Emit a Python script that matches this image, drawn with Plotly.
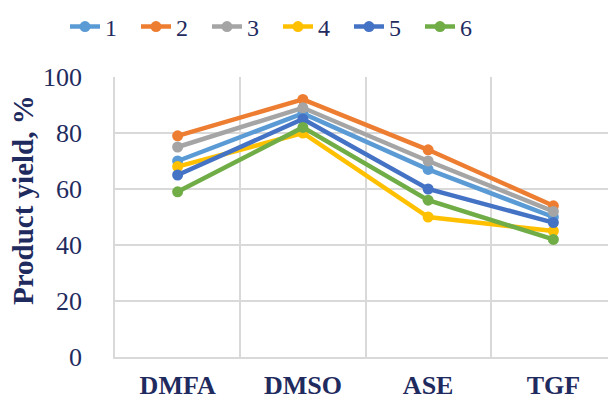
import plotly.graph_objects as go

categories = ["DMFA", "DMSO", "ASE", "TGF"]
series_names = ["1", "2", "3", "4", "5", "6"]
s1 = [70, 87, 67, 50]
s2 = [79, 92, 74, 54]
s3 = [75, 89, 70, 52]
s4 = [68, 80, 50, 45]
s5 = [65, 85, 60, 48]
s6 = [59, 82, 56, 42]
colors = ["#5B9BD5", "#ED7D31", "#A5A5A5", "#FFC000", "#4472C4", "#70AD47"]
y_ticks = [0, 20, 40, 60, 80, 100]
y_title = "Product yield, %"

navy = "#1F2B5E"
font_family = "Times New Roman"

# page body has an 8px margin; figure is sized to fill the rest of the window
W, H = 608, 393

fig = go.Figure()
for name, vals, col in zip(series_names, [s1, s2, s3, s4, s5, s6], colors):
    fig.add_trace(go.Scatter(
        x=categories, y=vals, name=name, mode="lines+markers",
        line=dict(color=col, width=4.5),
        marker=dict(color=col, size=11),
    ))

fig.update_layout(
    width=W, height=H,
    margin=dict(l=107, r=0, t=69, b=44, autoexpand=False),
    paper_bgcolor="white", plot_bgcolor="white",
    font=dict(family=font_family, color=navy, size=24),
    showlegend=True,
    legend=dict(orientation="h", x=57 / W, xanchor="left", xref="container",
                y=1 - 19 / H, yref="container", yanchor="middle",
                font=dict(size=24, color=navy, family=font_family),
                itemwidth=30, tracegroupgap=0,
                entrywidth=26, entrywidthmode="pixels",
                bgcolor="rgba(0,0,0,0)"),
    annotations=[dict(text=y_title, textangle=-90, xref="paper", yref="paper",
                      x=-(107 - 15) / (W - 107), y=(349 - 192) / 280,
                      xanchor="center", yanchor="middle", showarrow=False,
                      font=dict(size=29, color=navy, family=font_family, weight="bold"))],
)
fig.update_xaxes(
    type="category", tickson="boundaries",
    showgrid=True, gridcolor="#D9D9D9", gridwidth=1.5,
    showline=True, linecolor="#D9D9D9", linewidth=1.5,
    ticks="", ticklabelstandoff=4,
    tickfont=dict(size=26, color=navy, family=font_family, weight="bold"),
    range=[-0.5, 3.5],
)
fig.update_yaxes(
    range=[0, 100], tickvals=y_ticks,
    showgrid=True, gridcolor="#D9D9D9", gridwidth=1.5,
    showline=True, linecolor="#D9D9D9", linewidth=1.5,
    ticks="", ticklabelstandoff=26, zeroline=False,
    tickfont=dict(size=26, color=navy, family=font_family),
)

fig.write_html("out.html")
